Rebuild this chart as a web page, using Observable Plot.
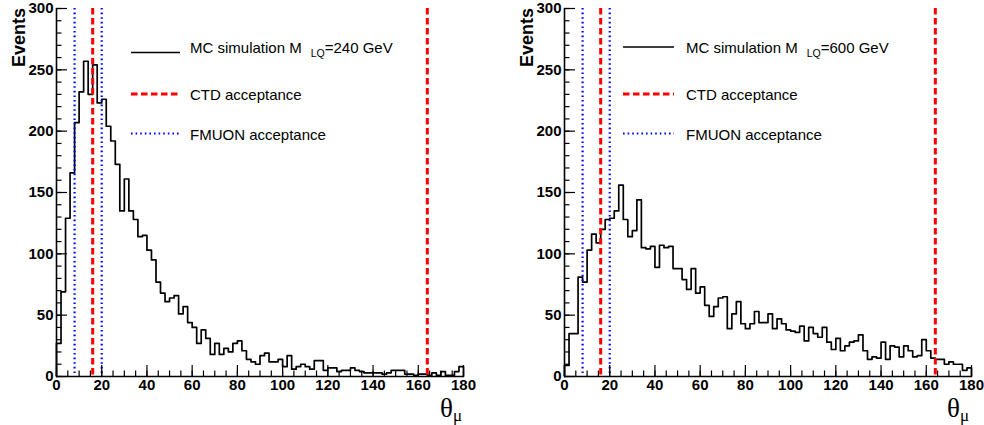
<!DOCTYPE html>
<html>
<head>
<meta charset="utf-8">
<script src="https://cdn.jsdelivr.net/npm/d3@7"></script>
<script src="https://cdn.jsdelivr.net/npm/@observablehq/plot@0.6"></script>
<style>
  html, body { margin: 0; padding: 0; background: #fff; }
  #wrap { display: flex; width: 984px; height: 425px; }
  svg { display: block; }
</style>
</head>
<body>
<div id="wrap"></div>
<script>
// ---------------- data ----------------
const binWidth = 2;          // degrees per bin, 0..180
const xMajorTicks = [0, 20, 40, 60, 80, 100, 120, 140, 160, 180];
const xMinorTicks = d3.range(0, 181, 5);
const yMajorTicks = [0, 50, 100, 150, 200, 250, 300];
const yMinorTicks = d3.range(0, 301, 10);

// Events per 2-degree bin, M_LQ = 240 GeV
const eventsLQ240 = [
  27, 69, 129, 166, 207, 232, 257, 230, 254, 223,
  226, 204, 192, 173, 135, 161, 135, 128, 114, 115,
  103, 95, 77, 68, 61, 64, 66, 51, 57, 44,
  40, 27, 38, 31, 18, 27, 18, 23, 20, 27,
  29, 21, 14, 12, 10, 17, 19, 12, 12, 14,
  8, 17, 6, 8, 10, 8, 6, 13, 13, 5,
  7, 7, 4, 5, 5, 7, 5, 4, 3, 3,
  3, 3, 2, 3, 5, 5, 5, 2, 2, 1,
  2, 2, 1, 3, 1, 4, 1, 1, 4, 8
];
// Events per 2-degree bin, M_LQ = 600 GeV
const eventsLQ600 = [
  9, 35, 35, 81, 77, 103, 116, 109, 120, 128,
  129, 135, 156, 128, 114, 119, 144, 105, 104, 106,
  89, 107, 105, 106, 88, 88, 79, 71, 88, 68,
  73, 58, 49, 57, 64, 65, 39, 51, 61, 43,
  39, 43, 53, 44, 44, 51, 39, 47, 43, 38,
  37, 36, 41, 29, 40, 35, 32, 40, 28, 22,
  31, 21, 25, 28, 29, 34, 21, 14, 16, 15,
  28, 14, 25, 24, 16, 25, 21, 16, 17, 30,
  21, 15, 14, 14, 10, 12, 10, 10, 5, 7
];
const ctdLimits = [16, 164];     // CTD acceptance (deg)
const fmuonLimits = [8, 20];     // FMUON acceptance (deg)

const legendLabels = {
  mc: ["MC simulation M", "LQ", "=240 GeV"],
  mc600: ["MC simulation M", "LQ", "=600 GeV"],
  ctd: "CTD acceptance",
  fmuon: "FMUON acceptance"
};
const yLabel = "Events";

// ---------------- drawing ----------------
const FONT = "'Liberation Sans', Arial, Helvetica, sans-serif";
const W = 492, H = 425;

function stepTable(values) {
  const pts = [{x: 0, y: 0}];
  values.forEach((v, i) => pts.push({x: i * binWidth, y: v}));
  pts.push({x: values.length * binWidth, y: values[values.length - 1]});
  pts.push({x: values.length * binWidth, y: 0});
  return pts;
}

function panel(values, mcLabel, m, leg) {
  const innerW = W - m.left - m.right;
  const innerH = H - m.top - m.bottom;
  const svg = Plot.plot({
    width: W, height: H,
    marginLeft: m.left, marginRight: m.right, marginTop: m.top, marginBottom: m.bottom,
    x: {domain: [0, 180]},
    y: {domain: [0, 300]},
    style: {fontFamily: FONT, background: "#fff", overflow: "visible"},
    marks: [
      Plot.line(stepTable(values), {x: "x", y: "y", curve: "step-after", stroke: "#000", strokeWidth: 1.7}),
      Plot.ruleX(fmuonLimits, {stroke: "#0000ff", strokeWidth: 2.2, strokeDasharray: "1.6,3"}),
      Plot.ruleX(ctdLimits, {stroke: "#ff0000", strokeWidth: 3, strokeDasharray: "6.5,3.5"}),
      Plot.tickX(xMajorTicks, {x: d => d, insetTop: innerH - 11, stroke: "#000", strokeWidth: 1.2}),
      Plot.tickX(xMinorTicks, {x: d => d, insetTop: innerH - 5.5, stroke: "#000", strokeWidth: 1.2}),
      Plot.tickY(yMajorTicks, {y: d => d, insetRight: innerW - 11, stroke: "#000", strokeWidth: 1.2}),
      Plot.tickY(yMinorTicks, {y: d => d, insetRight: innerW - 5.5, stroke: "#000", strokeWidth: 1.2}),
      Plot.ruleY([0], {stroke: "#000", strokeWidth: 1.6}),
      Plot.ruleX([0], {stroke: "#000", strokeWidth: 1.6}),
      Plot.axisX({ticks: xMajorTicks, tickSize: 0, tickPadding: 3, label: null,
                  fontSize: 15, fontWeight: "bold", fill: "#000"}),
      Plot.axisY({ticks: yMajorTicks, tickSize: 0, tickPadding: 3, label: null,
                  fontSize: 15, fontWeight: "bold", fill: "#000"})
    ]
  });
  const s = d3.select(svg);
  // y-axis title
  s.append("text")
    .attr("transform", `translate(${leg.evX},8) rotate(-90)`)
    .attr("text-anchor", "end")
    .attr("font-family", FONT).attr("font-size", 18).attr("font-weight", "bold")
    .attr("fill", "#000").text(yLabel);
  // x-axis title theta_mu
  const t = s.append("text").attr("x", leg.thX).attr("y", 417)
    .attr("text-anchor", "start")
    .attr("font-family", "'Liberation Serif', 'DejaVu Serif', serif").attr("fill", "#000");
  t.append("tspan").attr("font-size", 27).text("θ");
  t.append("tspan").attr("font-size", 17).attr("dy", 4).text("μ");

  // legend
  const g = s.append("g").attr("font-family", FONT).attr("font-size", 15)
    .attr("fill", "#000").attr("text-anchor", "start");
  g.append("line").attr("x1", leg.x1).attr("x2", leg.x2).attr("y1", leg.y0).attr("y2", leg.y0)
    .attr("stroke", "#000").attr("stroke-width", 1.4);
  const tx = g.append("text").attr("x", leg.tx).attr("y", 53);
  tx.append("tspan").text(mcLabel[0]);
  tx.append("tspan").attr("dx", 9).attr("dy", 4).attr("font-size", 10.5).text(mcLabel[1]);
  tx.append("tspan").attr("dy", -4).text(mcLabel[2]);

  g.append("line").attr("x1", leg.x1).attr("x2", leg.x2).attr("y1", 94).attr("y2", 94)
    .attr("stroke", "#ff0000").attr("stroke-width", 3).attr("stroke-dasharray", "6.5,3.5");
  g.append("text").attr("x", leg.tx).attr("y", 99.5).text(legendLabels.ctd);

  g.append("line").attr("x1", leg.x1).attr("x2", leg.x2).attr("y1", 133.5).attr("y2", 133.5)
    .attr("stroke", "#0000ff").attr("stroke-width", 2.2).attr("stroke-dasharray", "1.6,3");
  g.append("text").attr("x", leg.tx).attr("y", 139.5).text(legendLabels.fmuon);
  return svg;
}

const wrap = document.getElementById("wrap");
wrap.appendChild(panel(eventsLQ240, legendLabels.mc,
  {left: 56, right: 29, top: 8, bottom: 49},
  {evX: 25, thX: 440, x1: 131, x2: 180, y0: 52.5, tx: 190}));
wrap.appendChild(panel(eventsLQ600, legendLabels.mc600,
  {left: 72, right: 13, top: 8, bottom: 49},
  {evX: 41, thX: 455, x1: 131, x2: 182, y0: 47, tx: 194}));
</script>
</body>
</html>
